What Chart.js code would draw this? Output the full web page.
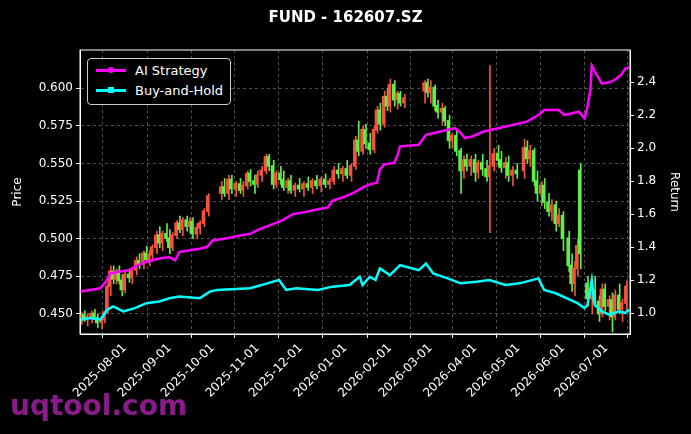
<!DOCTYPE html>
<html><head><meta charset="utf-8">
<script src="https://cdn.jsdelivr.net/npm/chart.js@4"></script>
<style>
body{margin:0;background:#000;width:691px;height:434px;overflow:hidden;font-family:"DejaVu Sans",sans-serif}
#wrap{position:relative;width:691px;height:434px}
#leg{position:absolute;left:87px;top:58px;width:142px;height:45px;border:1px solid #ccc;border-radius:4px;background:#000;color:#fff;font-size:13px}
.row{position:absolute;left:8px;height:20px;line-height:20px}
.sw{display:inline-block;width:30px;height:3px;vertical-align:middle;margin-right:9px;position:relative;top:-1px}
.sw i{position:absolute;left:12px;top:-2px;width:6px;height:6px;border-radius:3px}
#wm{position:absolute;left:10px;top:389px;font-size:28px;font-weight:bold;color:#8b1a8b}
</style></head><body>
<div id="wrap"><canvas id="c" width="691" height="434"></canvas>
<div id="leg">
<div class="row" style="top:2px"><span class="sw" style="background:#ff00ff"><i style="background:#ff00ff"></i></span>AI Strategy</div>
<div class="row" style="top:22px"><span class="sw" style="background:#00ffff"><i style="background:#00ffff;border-radius:0"></i></span>Buy-and-Hold</div>
</div>
<div id="wm">uqtool.com</div>
</div>
<script>
// day offsets from 2025-07-01
const tickDays=[31,62,92,123,153,184,215,243,274,304,335,365];
const tickLabels=["2025-08-01","2025-09-01","2025-10-01","2025-11-01","2025-12-01","2026-01-01","2026-02-01","2026-03-01","2026-04-01","2026-05-01","2026-06-01","2026-07-01"];
// candles: [day, open, high, low, close]
const candles=[
[1,.447,.451,.443,.449],[3,.449,.452,.445,.446],[5,.446,.450,.442,.448],[8,.448,.452,.444,.450],[10,.450,.453,.446,.447],[12,.447,.450,.441,.444],[15,.444,.448,.440,.446],[17,.446,.452,.444,.451],[19,.452,.470,.450,.468],[21,.468,.482,.462,.478],[23,.478,.482,.470,.473],[25,.473,.480,.470,.478],[27,.478,.482,.470,.472],[29,.472,.476,.462,.466],[31,.466,.478,.464,.476],[34,.476,.480,.471,.474],[36,.474,.480,.470,.479],[39,.479,.488,.476,.485],[41,.485,.490,.480,.483],[44,.483,.492,.480,.490],[46,.490,.495,.484,.486],[48,.486,.492,.482,.489],[50,.489,.496,.485,.494],[53,.494,.505,.490,.502],[55,.502,.508,.494,.497],[57,.497,.505,.492,.503],[60,.503,.510,.498,.500],[62,.500,.506,.490,.494],[64,.494,.504,.492,.502],[67,.502,.512,.500,.510],[69,.510,.515,.504,.506],[71,.506,.514,.502,.512],[74,.512,.515,.505,.508],[76,.508,.514,.504,.511],[78,.511,.514,.500,.503],[81,.503,.510,.500,.507],[83,.507,.512,.503,.510],[86,.510,.520,.508,.518],[89,.518,.530,.515,.528],
[98,.530,.538,.526,.534],[100,.534,.540,.528,.530],[103,.530,.542,.526,.539],[105,.539,.542,.530,.533],[108,.533,.538,.528,.536],[111,.536,.540,.530,.532],[113,.532,.538,.528,.535],[116,.535,.545,.533,.543],[118,.543,.546,.535,.538],[121,.538,.542,.530,.536],[123,.536,.545,.534,.542],[126,.542,.548,.538,.545],[129,.545,.556,.543,.554],[131,.554,.556,.545,.548],[134,.548,.552,.533,.536],[136,.536,.545,.534,.543],[139,.543,.548,.536,.539],[141,.539,.545,.532,.534],[144,.534,.540,.530,.538],[146,.538,.542,.530,.532],[149,.532,.537,.528,.535],[152,.535,.540,.531,.533],[155,.533,.538,.528,.536],[158,.536,.541,.532,.534],[161,.534,.540,.530,.538],[164,.538,.542,.533,.535],[167,.535,.541,.531,.539],[170,.539,.543,.534,.536],[173,.536,.540,.533,.538],[176,.538,.548,.536,.545],[179,.545,.550,.540,.543],[182,.543,.548,.538,.546],[185,.546,.552,.540,.542],[188,.542,.550,.538,.548],[191,.548,.568,.546,.565],[193,.565,.578,.555,.558],[196,.558,.575,.556,.572],[198,.572,.576,.560,.563],[201,.563,.570,.556,.559],[204,.559,.575,.557,.572],[206,.572,.588,.570,.585],[208,.585,.590,.572,.576],[211,.576,.598,.574,.594],[213,.594,.600,.585,.588],[215,.588,.606,.584,.602],[218,.602,.605,.588,.592],[220,.592,.598,.586,.596],[222,.596,.598,.588,.590],[225,.590,.596,.587,.593],
[239,.598,.605,.590,.603],[241,.603,.606,.594,.597],[243,.597,.605,.590,.600],[246,.600,.602,.585,.588],[248,.588,.592,.580,.584],[251,.584,.590,.576,.586],[253,.586,.588,.575,.578],[256,.578,.582,.560,.565],[258,.565,.570,.560,.568],[261,.568,.572,.555,.558],[264,.558,.560,.530,.545],[266,.545,.555,.540,.552],[268,.552,.556,.545,.548],[271,.548,.555,.542,.552],[274,.552,.556,.538,.544],[276,.544,.552,.540,.550],[279,.550,.556,.542,.546],[282,.546,.552,.538,.541],[284,.541,.615,.504,.548],[287,.548,.560,.545,.556],[290,.556,.562,.548,.552],[292,.552,.558,.544,.547],[295,.547,.554,.540,.550],[297,.550,.555,.538,.542],[300,.542,.548,.535,.545],[303,.545,.550,.540,.543],[308,.545,.566,.540,.560],[310,.560,.565,.550,.553],[312,.553,.562,.548,.558],[315,.558,.560,.535,.538],[317,.538,.545,.525,.530],[320,.530,.538,.522,.535],[322,.535,.540,.520,.524],[325,.524,.530,.515,.518],[327,.518,.526,.512,.522],[330,.522,.525,.505,.510],[332,.510,.520,.508,.515],[335,.515,.518,.492,.500],[339,.500,.505,.478,.482],[341,.482,.490,.465,.470],[343,.470,.485,.462,.480],[345,.480,.500,.475,.495],[347,.545,.550,.480,.490],[352,.470,.475,.455,.460],[355,.460,.468,.450,.465],[357,.465,.475,.455,.458],[360,.458,.462,.445,.450],[362,.450,.470,.448,.466],[364,.466,.470,.452,.455],[367,.455,.462,.446,.459],[369,.459,.464,.438,.448],[371,.448,.466,.446,.462],[374,.462,.470,.450,.453],[376,.453,.460,.445,.457],[379,.457,.472,.452,.468]];
const aiDays=[0,7,14,18,21,27,34,40,46,55,62,66,69,76,83,88,92,100,111,118,125,131,140,148,155,166,172,175,182,190,196,201,206,208,211,218,220,222,235,240,250,260,263,267,272,280,290,300,310,318,322,332,336,346,350,352,354,355,358,362,368,372,376,378,381];
const aiVals=[1.13,1.14,1.15,1.19,1.24,1.25,1.26,1.29,1.31,1.33,1.34,1.32,1.37,1.38,1.39,1.40,1.44,1.45,1.47,1.48,1.51,1.53,1.56,1.60,1.61,1.63,1.64,1.68,1.70,1.73,1.76,1.78,1.79,1.87,1.90,1.91,1.95,2.01,2.02,2.08,2.10,2.12,2.10,2.06,2.07,2.10,2.12,2.14,2.16,2.20,2.23,2.23,2.20,2.22,2.18,2.25,2.35,2.50,2.45,2.39,2.40,2.42,2.45,2.48,2.49];
const bhDays=[0,7,14,19,23,30,38,46,55,62,69,83,90,95,118,130,138,143,150,165,175,187,194,196,201,205,208,215,222,235,240,245,255,264,275,284,295,305,318,322,330,345,350,352,355,357,362,367,374,378,381];
const bhVals=[0.96,0.97,0.96,1.02,1.04,1.01,1.03,1.06,1.07,1.09,1.10,1.09,1.13,1.14,1.15,1.18,1.20,1.14,1.15,1.14,1.16,1.17,1.22,1.17,1.22,1.20,1.27,1.23,1.29,1.26,1.30,1.24,1.21,1.18,1.19,1.20,1.17,1.18,1.21,1.14,1.12,1.06,1.03,1.05,1.20,1.05,1.01,0.99,1.01,1.00,1.02];
const priceTicks=[0.450,0.475,0.500,0.525,0.550,0.575,0.600];
const retTicks=[1.0,1.2,1.4,1.6,1.8,2.0,2.2,2.4];

const UP='#f5533d',DN='#5ef046';
const col=candles.map(c=>c[4]>=c[1]?UP:DN);
const font={family:'DejaVu Sans',size:12};
const grid={color:'rgba(140,140,140,0.55)',tickColor:'#fff',tickLength:4,drawOnChartArea:true};
const bord={color:'#fff',dash:[3,3]};
new Chart(document.getElementById('c'),{
 data:{datasets:[
  {type:'line',label:'AI Strategy',data:aiDays.map((d,i)=>({x:d,y:aiVals[i]})),yAxisID:'yR',borderColor:'#ff00ff',borderWidth:2.5,pointRadius:0,tension:0,order:0},
  {type:'line',label:'Buy-and-Hold',data:bhDays.map((d,i)=>({x:d,y:bhVals[i]})),yAxisID:'yR',borderColor:'#00ffff',borderWidth:2.5,pointRadius:0,tension:0,order:1},
  {type:'bar',data:candles.map(c=>({x:c[0],y:[c[3],c[2]]})),yAxisID:'y',backgroundColor:col,barThickness:1,order:3},
  {type:'bar',data:candles.map(c=>({x:c[0],y:[Math.min(c[1],c[4]),Math.max(c[1],c[4])+0.0006]})),yAxisID:'y',backgroundColor:col,barThickness:2,order:2}
 ]},
 options:{responsive:false,animation:false,
  layout:{padding:{left:0,right:0,top:0,bottom:0}},
  plugins:{legend:{display:false},tooltip:{enabled:false},
   title:{display:true,text:'FUND - 162607.SZ',color:'#fff',font:{family:'DejaVu Sans',size:15,weight:'bold'},padding:{top:9,bottom:23}}},
  scales:{
   x:{type:'linear',min:0,max:381.5,offset:false,grid:{...grid},border:bord,
    afterBuildTicks:s=>{s.ticks=tickDays.map(v=>({value:v}));},
    ticks:{color:'#fff',font,maxRotation:45,minRotation:45,autoSkip:false,callback:(v)=>tickLabels[tickDays.indexOf(v)]},
    afterFit:s=>{s.height=100;}},
   y:{position:'left',min:0.4367,max:0.6253,grid:{...grid},border:bord,
    afterBuildTicks:s=>{s.ticks=priceTicks.map(v=>({value:v}));},
    ticks:{color:'#fff',font,callback:v=>v.toFixed(3)},
    title:{display:true,text:'Price',color:'#fff',font,padding:{top:11,bottom:4}},
    afterFit:s=>{s.width=80;}},
   yR:{position:'right',min:0.873,max:2.594,grid:{drawOnChartArea:false,tickColor:'#fff',tickLength:4},border:{color:'#fff'},
    afterBuildTicks:s=>{s.ticks=retTicks.map(v=>({value:v}));},
    ticks:{color:'#fff',font,callback:v=>v.toFixed(1)},
    title:{display:true,text:'Return',color:'#fff',font,padding:{top:10,bottom:4}},
    afterFit:s=>{s.width=61;}}
  }},
 plugins:[{id:'bg',beforeDraw:c=>{const x=c.ctx;x.save();x.fillStyle='#000';x.fillRect(0,0,c.width,c.height);x.restore();},
  afterDraw:c=>{const a=c.chartArea,x=c.ctx;x.save();x.strokeStyle='#fff';x.lineWidth=1;x.setLineDash([]);x.strokeRect(a.left,a.top,a.right-a.left,a.bottom-a.top);x.restore();}}]
});
</script></body></html>
